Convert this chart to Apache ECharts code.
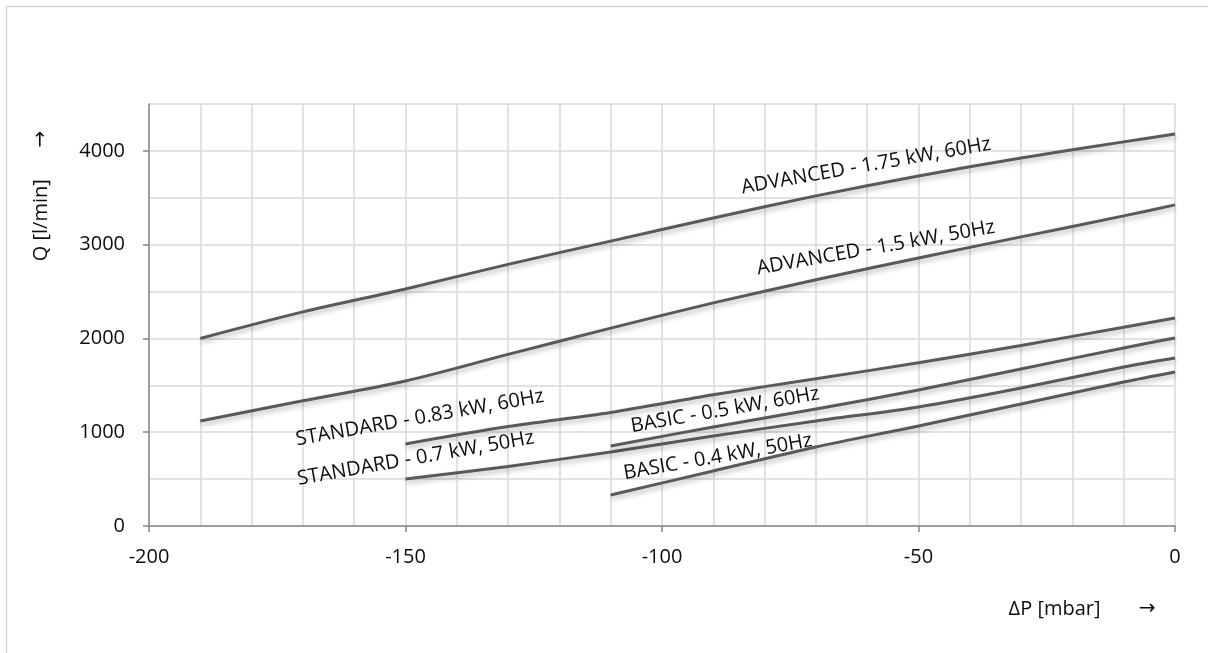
<!DOCTYPE html>
<html>
<head>
<meta charset="utf-8">
<script src="https://cdn.jsdelivr.net/npm/echarts@6/dist/echarts.min.js"></script>
<style>
html,body{margin:0;padding:0;background:#fff;}
#chart{width:1208px;height:653px;}
</style>
</head>
<body>
<div id="chart"></div>
<script>
// ---- data ----
const seriesNames = [
  'ADVANCED - 1.75 kW, 60Hz',
  'ADVANCED - 1.5 kW, 50Hz',
  'STANDARD - 0.83 kW, 60Hz',
  'STANDARD - 0.7 kW, 50Hz',
  'BASIC - 0.5 kW, 60Hz',
  'BASIC - 0.4 kW, 50Hz'
];
const adv175X = [-190, -170, -150, -130, -110, -90, -70, -50, -30, -10, 0];
const adv175Y = [2000, 2283, 2528, 2790, 3038, 3285, 3520, 3733, 3925, 4096, 4180];
const adv150X = [-190, -170, -150, -130, -110, -90, -70, -50, -30, -10, 0];
const adv150Y = [1120, 1335, 1547, 1830, 2110, 2379, 2625, 2858, 3083, 3307, 3424];
const stdX = [-150, -130, -110, -90, -70, -50, -30, -10, 0];
const std083Y = [875, 1060, 1210, 1400, 1570, 1740, 1925, 2120, 2219];
const std07Y = [500, 635, 790, 960, 1120, 1270, 1472, 1696, 1792];
const basicX = [-110, -90, -70, -50, -30, -10, 0];
const basic05Y = [853, 1056, 1248, 1450, 1675, 1899, 2005];
const basic04Y = [331, 587, 843, 1067, 1301, 1536, 1643];
const xTickLabels = [-200, -150, -100, -50, 0];
const yTickLabels = [0, 1000, 2000, 3000, 4000];
const xTitle = 'ΔP [mbar]';
const yTitle = 'Q [l/min]';
const arrow = '→';

// ---- chart ----
const FONT = 'Open Sans';
const TXT = '#0d0d0d';
const seriesXY = [
  [adv175X, adv175Y], [adv150X, adv150Y], [stdX, std083Y],
  [stdX, std07Y], [basicX, basic05Y], [basicX, basic04Y]
];
// label anchors in data units (centre of each rotated caption)
const labelAnchor = [
  [-60.2, 3840], [-58.3, 2965], [-147.2, 1152],
  [-148.0, 720], [-87.7, 1237], [-89.1, 736]
];
const labelRotate = [10, 10, 10, 10, 10, 10];

const chart = echarts.init(document.getElementById('chart'), null, {renderer: 'canvas'});
const series = seriesNames.map((name, i) => ({
  name: name,
  type: 'line',
  xAxisIndex: 0, yAxisIndex: 0,
  smooth: 0.3,
  showSymbol: false,
  symbol: 'none',
  data: seriesXY[i][0].map((x, k) => [x, seriesXY[i][1][k]]),
  lineStyle: {
    color: '#595959', width: 3,
    shadowColor: 'rgba(0,0,0,0.28)', shadowBlur: 5, shadowOffsetX: 1, shadowOffsetY: 3
  },
  itemStyle: {color: '#595959'},
  emphasis: {disabled: true},
  markPoint: {
    symbol: 'circle', symbolSize: 0, silent: true,
    data: [{
      coord: labelAnchor[i], value: name,
      label: {
        show: true, position: 'inside', formatter: name,
        rotate: labelRotate[i], fontFamily: FONT, fontSize: 20, color: TXT
      }
    }]
  }
}));

const gridLine = {show: true, lineStyle: {color: '#d9d9d9', width: 1.5}};
const axisCol = {color: '#868686', width: 1.5};
chart.setOption({
  animation: false,
  backgroundColor: '#fff',
  grid: {left: 149, right: 33, top: 104, bottom: 127, containLabel: false},
  xAxis: [{
    type: 'value', min: -200, max: 0, interval: 10, position: 'bottom',
    axisLine: {show: false}, axisTick: {show: false}, axisLabel: {show: false},
    splitLine: gridLine
  }, {
    type: 'value', min: -200, max: 0, interval: 50, position: 'bottom',
    axisLine: {show: true, onZero: false, lineStyle: axisCol},
    axisTick: {show: true, length: 6, lineStyle: axisCol},
    axisLabel: {margin: 21, fontFamily: FONT, fontSize: 20, color: TXT,
      formatter: v => String(v)},
    splitLine: {show: false}
  }],
  yAxis: [{
    type: 'value', min: 0, max: 4500, interval: 500, position: 'left',
    axisLine: {show: false}, axisTick: {show: false}, axisLabel: {show: false},
    splitLine: gridLine
  }, {
    type: 'value', min: 0, max: 4500, interval: 500, position: 'left',
    axisLine: {show: true, onZero: false, lineStyle: axisCol},
    axisTick: {show: true, length: 6, customValues: yTickLabels, lineStyle: axisCol},
    axisLabel: {customValues: yTickLabels, margin: 24, fontFamily: FONT, fontSize: 20, color: TXT,
      formatter: v => String(v)},
    splitLine: {show: false}
  }],
  graphic: [
    {type: 'rect', shape: {x: 6.5, y: 6.5, width: 1400, height: 800},
     style: {fill: null, stroke: '#d9d9d9', lineWidth: 1.5}, silent: true, z: -1},
    {type: 'text', x: 41, y: 196, rotation: Math.PI / 2,
     style: {text: '{t|' + yTitle + '}{a|     ' + arrow + '}', align: 'center', verticalAlign: 'middle',
       rich: {t: {fontFamily: FONT, fontSize: 20, fill: TXT, color: TXT},
              a: {fontFamily: 'DejaVu Sans', fontSize: 20, fill: TXT, color: TXT}}}},
    {type: 'text', x: 1082, y: 609,
     style: {text: '{t|' + xTitle + '}{a|      ' + arrow + '}', align: 'center', verticalAlign: 'middle',
       rich: {t: {fontFamily: FONT, fontSize: 20, fill: TXT, color: TXT},
              a: {fontFamily: 'DejaVu Sans', fontSize: 20, fill: TXT, color: TXT}}}}
  ],
  series: series
});
</script>
</body>
</html>
